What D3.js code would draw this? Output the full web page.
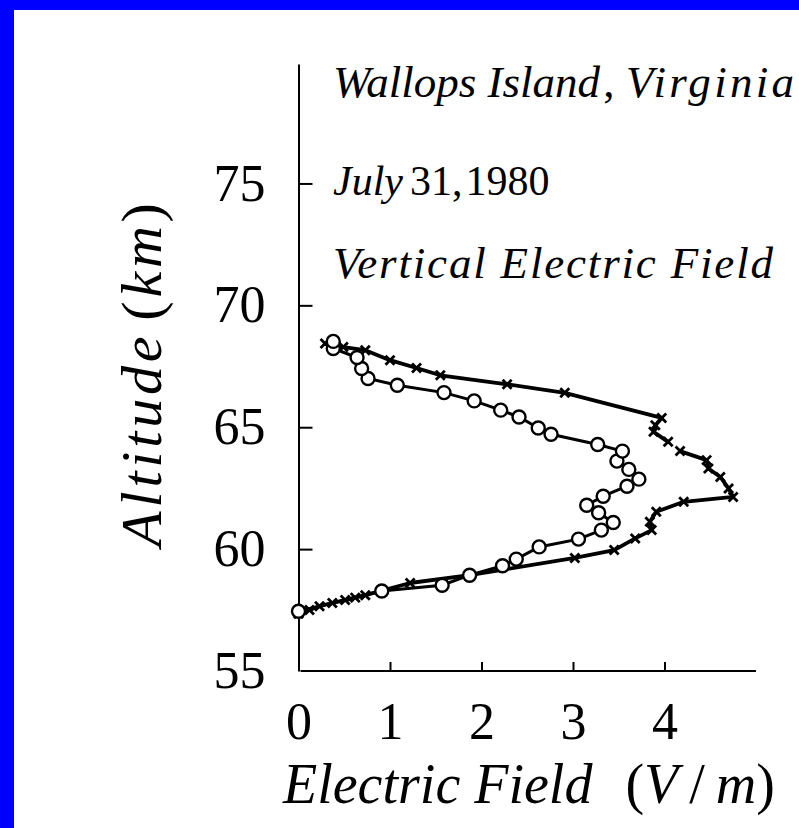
<!DOCTYPE html>
<html>
<head>
<meta charset="utf-8">
<script src="https://cdn.jsdelivr.net/npm/d3@7"></script>
<style>
  body { margin: 0; background: #fff; }
  svg { display: block; }
  text { font-family: "Liberation Serif", "Times New Roman", serif; fill: #000; }
</style>
</head>
<body>
<svg id="chart" width="799" height="828"></svg>
<script>
// open circle profile (upleg)
var circField = [0.0, 0.91, 1.57, 1.87, 2.23, 2.38, 2.63, 3.06, 3.31, 3.44, 3.28, 3.15, 3.33, 3.59, 3.72,
                 3.61, 3.48, 3.54, 3.27, 2.76, 2.62, 2.41, 2.21, 1.92, 1.59, 1.08, 0.76, 0.69, 0.64, 0.38, 0.38];
var circAlt   = [57.45, 58.28, 58.52, 58.93, 59.32, 59.59, 60.09, 60.41, 60.78, 61.09, 61.49, 61.80, 62.17, 62.58, 62.87,
                 63.27, 63.61, 64.02, 64.29, 64.71, 64.97, 65.42, 65.70, 66.08, 66.42, 66.72, 67.00, 67.41, 67.86, 68.23, 68.52];

// cross marker profile (downleg), null = gap in the trace
var crossField = [0.0, 0.12, 0.23, 0.37, 0.51, 0.62, 0.73, 1.22, 1.87, 3.02, 3.45, 3.68, 3.86, 3.84, 3.91, 4.21, 4.75, 4.70,
                  4.61, 4.48, 4.46, 4.17, null, 4.04, 3.88, 3.90, 3.97, 2.91, 2.28, 1.55, 1.29, 1.00, 0.73, 0.49, 0.29];
var crossAlt   = [57.35, 57.50, 57.66, 57.79, 57.91, 58.01, 58.11, 58.61, 58.93, 59.64, 59.96, 60.44, 60.78, 61.12, 61.53, 61.94, 62.14, 62.49,
                  62.96, 63.31, 63.65, 64.02, null, 64.40, 64.81, 65.08, 65.38, 66.41, 66.76, 67.13, 67.43, 67.75, 68.16, 68.29, 68.43];

var xTicks = [0, 1, 2, 3, 4];
var yTicks = [55, 60, 65, 70, 75];

var svg = d3.select("#chart");

// blue frame (top + left only)
svg.append("rect").attr("x", 0).attr("y", 0).attr("width", 799).attr("height", 10).attr("fill", "#0000ff");
svg.append("rect").attr("x", 0).attr("y", 0).attr("width", 14).attr("height", 828).attr("fill", "#0000ff");

var x = d3.scaleLinear().domain([0, 5]).range([298.5, 756]);
var y = d3.scaleLinear().domain([55, 79.9]).range([671, 64]);

var tickFont = 52;

// x axis
var gx = svg.append("g")
  .attr("transform", "translate(0," + y(55) + ")")
  .call(d3.axisBottom(x).tickValues(xTicks).tickSizeInner(-9).tickSizeOuter(0).tickPadding(31).tickFormat(d3.format("d")));
gx.select(".domain").attr("stroke-width", 2).attr("d", "M" + (x(0) + 2) + ",0H" + x(5));
gx.selectAll(".tick line").attr("stroke-width", 2).filter(function(d) { return d === 0; }).remove();
gx.selectAll(".tick text").attr("font-size", tickFont).attr("font-family", "Liberation Serif");

// y axis
var gy = svg.append("g")
  .attr("transform", "translate(" + x(0) + ",0)")
  .call(d3.axisLeft(y).tickValues(yTicks).tickSizeInner(-14).tickSizeOuter(0).tickPadding(33).tickFormat(d3.format("d")));
gy.select(".domain").attr("stroke-width", 2);
gy.selectAll(".tick line").attr("stroke-width", 2).filter(function(d) { return d === 55; }).remove();
gy.selectAll(".tick text").attr("font-size", tickFont).attr("font-family", "Liberation Serif");

// cross series
var crossData = crossField.map(function(v, i) { return {f: v, a: crossAlt[i]}; });
var line = d3.line()
  .defined(function(d) { return d.f !== null; })
  .x(function(d) { return x(d.f); })
  .y(function(d) { return y(d.a); });

svg.append("path")
  .datum(crossData)
  .attr("fill", "none")
  .attr("stroke", "#000")
  .attr("stroke-width", 3.8)
  .attr("stroke-linejoin", "round")
  .attr("d", line);

svg.selectAll(".cross")
  .data(crossData.filter(function(d) { return d.f !== null; }))
  .enter().append("path")
  .attr("class", "cross")
  .attr("transform", function(d) { return "translate(" + x(d.f) + "," + y(d.a) + ")"; })
  .attr("d", "M-4.5,-4.5L4.5,4.5M-4.5,4.5L4.5,-4.5")
  .attr("stroke", "#000")
  .attr("stroke-width", 2.8);

// circle series
var circData = circField.map(function(v, i) { return {f: v, a: circAlt[i]}; });
svg.append("path")
  .datum(circData)
  .attr("fill", "none")
  .attr("stroke", "#000")
  .attr("stroke-width", 3)
  .attr("d", line);

svg.selectAll(".circ")
  .data(circData)
  .enter().append("circle")
  .attr("class", "circ")
  .attr("cx", function(d) { return x(d.f); })
  .attr("cy", function(d) { return y(d.a); })
  .attr("r", 6.5)
  .attr("fill", "#fff")
  .attr("stroke", "#000")
  .attr("stroke-width", 2.4);

// annotations
var t1 = svg.append("text").attr("x", 333).attr("y", 97).attr("font-size", 45).attr("font-style", "italic");
t1.append("tspan").text("Wallops Island");
t1.append("tspan").attr("font-style", "normal").attr("dx", 3).text(",");
t1.append("tspan").attr("x", 626).attr("textLength", 168).attr("lengthAdjust", "spacing").text("Virginia");

var t2 = svg.append("text").attr("x", 333).attr("y", 195).attr("font-size", 42);
t2.append("tspan").attr("font-style", "italic").text("July");
t2.append("tspan").attr("dx", 7).text("31,");
t2.append("tspan").attr("dx", 3).text("1980");

svg.append("text").attr("x", 333).attr("y", 278).attr("font-size", 45).attr("font-style", "italic")
  .attr("textLength", 440).attr("lengthAdjust", "spacing")
  .text("Vertical Electric Field");

// axis titles
var xt = svg.append("text").attr("x", 283).attr("y", 803).attr("font-size", 56);
xt.append("tspan").attr("font-style", "italic").text("Electric Field");
xt.append("tspan").attr("dx", 33).text("(");
xt.append("tspan").attr("font-style", "italic").text("V");
xt.append("tspan").attr("dx", 11).text("/");
xt.append("tspan").attr("dx", 11).attr("font-style", "italic").text("m");
xt.append("tspan").text(")");

var yt = svg.append("text")
  .attr("transform", "translate(161,373) rotate(-90)")
  .attr("text-anchor", "middle")
  .attr("font-size", 58)
  .attr("letter-spacing", 3.8);
yt.append("tspan").attr("font-style", "italic").text("Altitude");
yt.append("tspan").attr("dx", 12).text("(");
yt.append("tspan").attr("font-style", "italic").text("km");
yt.append("tspan").text(")");
</script>
</body>
</html>
